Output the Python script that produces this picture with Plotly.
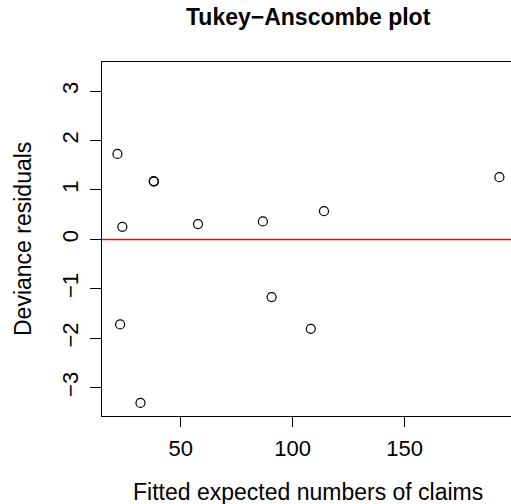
import plotly.graph_objects as go

# Data
fitted = [21.7, 23.9, 37.9, 38.0, 57.7, 86.7, 22.9, 32.0, 90.6, 108.1, 114.0, 192.4]
resid = [1.73, 0.255, 1.18, 1.17, 0.31, 0.364, -1.72, -3.31, -1.167, -1.81, 0.572, 1.26]
x_ticks = [50, 100, 150]
y_ticks = [-3, -2, -1, 0, 1, 2, 3]

FONT = "Liberation Sans, Arial, Helvetica, sans-serif"
W, H = 520, 504
L, R, T, B = 102, 0, 62, 88
PW, PH = W - L - R, H - T - B


def px(x):
    return (x - L) / PW


def py(y):
    return (H - B - y) / PH


fig = go.Figure()
fig.add_trace(go.Scatter(
    x=fitted, y=resid, mode="markers",
    marker=dict(symbol="circle-open", size=9, color="black", line=dict(width=1.2, color="black")),
    showlegend=False, hoverinfo="skip", cliponaxis=True,
))
fig.add_hline(y=0, line=dict(color="#ff0000", width=1.5))

fig.update_layout(
    width=W, height=H,
    margin=dict(l=L, r=R, t=T, b=B, pad=0),
    paper_bgcolor="white", plot_bgcolor="white",
    font=dict(family=FONT, size=22, color="black"),
    xaxis=dict(
        range=[14.8, 201.6], tickvals=x_ticks, ticktext=[str(v) for v in x_ticks],
        showgrid=False, zeroline=False, showline=True, mirror=True,
        linecolor="black", linewidth=1, ticks="outside", ticklen=10, tickcolor="black",
        tickfont=dict(size=22), ticklabelstandoff=3,
    ),
    yaxis=dict(
        range=[-3.574, 3.59], tickvals=y_ticks, ticktext=[str(v).replace("-", "\u2212") for v in y_ticks],
        showgrid=False, zeroline=False, showline=True, mirror=False,
        linecolor="black", linewidth=1, ticks="outside", ticklen=11, tickcolor="black",
        tickfont=dict(size=22), tickangle=-90, ticklabelstandoff=3,
    ),
    annotations=[
        dict(text="<b>Tukey\u2212Anscombe plot</b>", x=px(308), y=py(17),
             xref="paper", yref="paper", xanchor="center", yanchor="middle",
             showarrow=False, font=dict(size=23, family=FONT)),
        dict(text="Fitted expected numbers of claims", x=px(308), y=py(492),
             xref="paper", yref="paper", xanchor="center", yanchor="middle",
             showarrow=False, font=dict(size=23, family=FONT)),
        dict(text="Deviance residuals", x=px(23), y=py(239),
             xref="paper", yref="paper", xanchor="center", yanchor="middle",
             showarrow=False, textangle=-90, font=dict(size=23, family=FONT)),
    ],
)

fig.write_html(
    "out.html",
    config={"displayModeBar": False},
    post_script="document.body.style.margin='0';document.body.style.overflow='hidden';",
)
